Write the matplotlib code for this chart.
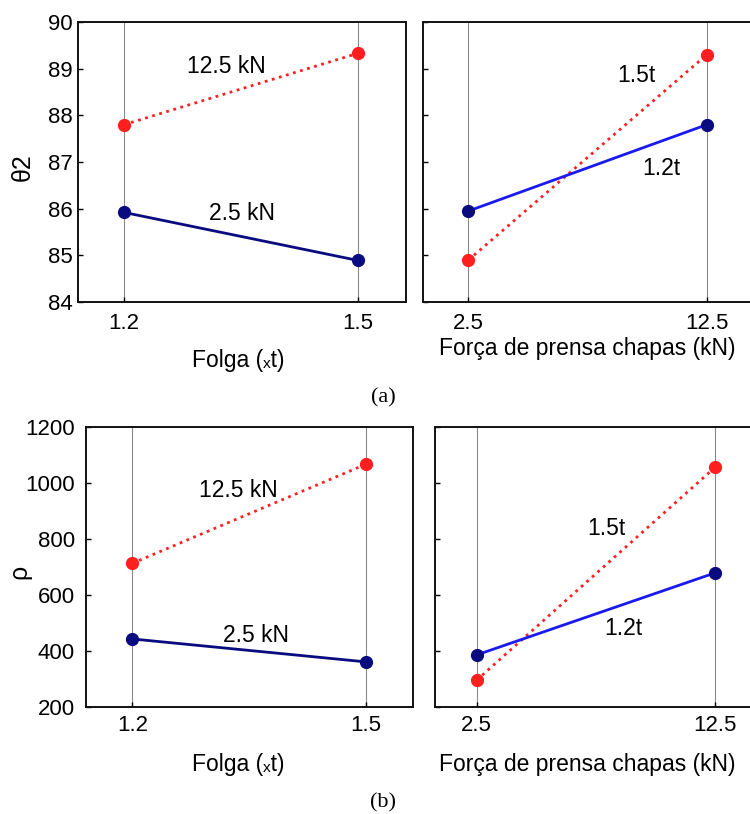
import matplotlib
matplotlib.use("Agg")
from matplotlib import pyplot as plt

plt.rcParams['font.family'] = ['Liberation Sans', 'DejaVu Sans']

# Dados
folga = [1.2, 1.5]
forca = [2.5, 12.5]

theta_125kN = [87.8, 89.33]
theta_25kN = [85.92, 84.89]
theta_12t = [85.95, 87.8]
theta_15t = [84.9, 89.3]

rho_125kN = [712, 1066]
rho_25kN = [442, 360]
rho_12t = [385, 678]
rho_15t = [295, 1055]

vermelho = '#ff1f1f'
azul_escuro = '#0b0b80'
azul = '#1a1aee'

FS = 16.5
W, H = 750, 814
fig = plt.figure(figsize=(W / 100, H / 100), dpi=100)


def eixo(x0, y0, x1, y1):
    # caixa em pixels (esquerda, topo, direita, baixo)
    return fig.add_axes([x0 / W, 1 - y1 / H, (x1 - x0) / W, (y1 - y0) / H])


def estilo(ax, ticks, xlim, ylim, yticks, mostrar_y, pad_y, pad_x):
    ax.set_xlim(xlim)
    ax.set_ylim(ylim)
    ax.set_xticks(ticks)
    ax.set_xticklabels([str(t) for t in ticks])
    ax.set_yticks(yticks)
    if not mostrar_y:
        ax.set_yticklabels([])
    ax.grid(axis='x', color='#8a8a8a', linewidth=0.8)
    ax.set_axisbelow(True)
    ax.tick_params(direction='in', length=3.5, width=1, labelsize=16)
    ax.tick_params(axis='y', pad=pad_y)
    ax.tick_params(axis='x', pad=pad_x)
    for s in ax.spines.values():
        s.set_linewidth(1.4)
        s.set_color('#111111')


def linha(ax, x, y, cor_linha, ls):
    ax.plot(x, y, color=cor_linha, linestyle=ls, linewidth=2, zorder=2)


def pontos(ax, x, y, cor):
    ax.plot(x, y, 'o', color=cor, markersize=8.5, zorder=3, linestyle='none')


# (a) theta2
ax1 = eixo(78, 22, 406, 302)
estilo(ax1, folga, (1.141, 1.5615), (84, 90), range(84, 91), True, 4, 8)
linha(ax1, folga, theta_125kN, vermelho, ':')
linha(ax1, folga, theta_25kN, azul_escuro, '-')
pontos(ax1, folga, theta_125kN, vermelho)
pontos(ax1, folga, theta_25kN, azul_escuro)
ax1.text(1.331, 89.04, '12.5 kN', fontsize=FS, ha='center', va='center')
ax1.text(1.351, 85.9, '2.5 kN', fontsize=FS, ha='center', va='center')
ax1.set_ylabel('θ2', fontsize=18)
ax1.yaxis.set_label_coords(-0.131, 0.48)

ax2 = eixo(422.7, 22, 754.7, 302)
estilo(ax2, forca, (0.582, 14.51), (84, 90), range(84, 91), False, 4, 8)
linha(ax2, forca, theta_15t, vermelho, ':')
linha(ax2, forca, theta_12t, azul, '-')
pontos(ax2, forca, theta_15t, vermelho)
pontos(ax2, forca, theta_12t, azul_escuro)
ax2.text(9.56, 88.86, '1.5t', fontsize=FS, ha='center', va='center')
ax2.text(10.61, 86.87, '1.2t', fontsize=FS, ha='center', va='center')

fig.text(238 / W, 1 - 361 / H, 'Folga (ₓt)', fontsize=FS, ha='center', va='center')
fig.text(587 / W, 1 - 348 / H, 'Força de prensa chapas (kN)', fontsize=FS,
         ha='center', va='center')
fig.text(383 / W, 1 - 398 / H, '(a)', fontsize=16, ha='center', va='center',
         family='Liberation Serif')

# (b) rho
ax3 = eixo(86, 426.7, 412.7, 706.7)
estilo(ax3, folga, (1.1406, 1.56), (200, 1200), range(200, 1201, 200), True, 8, 6)
linha(ax3, folga, rho_125kN, vermelho, ':')
linha(ax3, folga, rho_25kN, azul_escuro, '-')
pontos(ax3, folga, rho_125kN, vermelho)
pontos(ax3, folga, rho_25kN, azul_escuro)
ax3.text(1.336, 971, '12.5 kN', fontsize=FS, ha='center', va='center')
ax3.text(1.359, 456, '2.5 kN', fontsize=FS, ha='center', va='center')
ax3.set_ylabel('ρ', fontsize=18)
ax3.yaxis.set_label_coords(-0.168, 0.48)

ax4 = eixo(435, 426.7, 763, 706.7)
estilo(ax4, forca, (0.75, 14.51), (200, 1200), range(200, 1201, 200), False, 8, 6)
linha(ax4, forca, rho_15t, vermelho, ':')
linha(ax4, forca, rho_12t, azul, '-')
pontos(ax4, forca, rho_15t, vermelho)
pontos(ax4, forca, rho_12t, azul_escuro)
ax4.text(7.95, 837, '1.5t', fontsize=FS, ha='center', va='center')
ax4.text(8.63, 480, '1.2t', fontsize=FS, ha='center', va='center')

fig.text(238 / W, 1 - 765 / H, 'Folga (ₓt)', fontsize=FS, ha='center', va='center')
fig.text(587 / W, 1 - 765 / H, 'Força de prensa chapas (kN)', fontsize=FS,
         ha='center', va='center')
fig.text(383 / W, 1 - 803 / H, '(b)', fontsize=16, ha='center', va='center',
         family='Liberation Serif')

fig.savefig('out.png', dpi=100)
